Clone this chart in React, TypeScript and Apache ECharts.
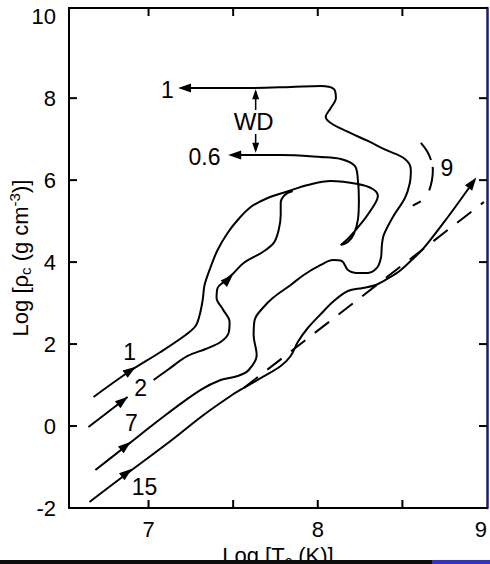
import React, { useEffect, useRef } from "react";
import * as echarts from "echarts";

// Central density vs central temperature tracks (log units)
const xTickValues = [7, 7.5, 8, 8.5];
const xLabelValues = [7, 8, 9];
const yTickValues = [0, 2, 4, 6, 8];
const xMin = 6.53;
const xMax = 9;
const yMin = -2;
const yMax = 10.2;

// 1 Msun star: main sequence -> degenerate core -> 0.6 Msun white dwarf
const track1: number[][] = [
  [6.675, 0.709], [6.882, 1.319], [7.071, 1.807], [7.219, 2.222], [7.278, 2.441],
  [7.302, 2.71], [7.32, 3.076], [7.331, 3.442], [7.367, 3.881], [7.408, 4.296],
  [7.467, 4.711], [7.527, 5.028], [7.604, 5.345], [7.704, 5.565], [7.811, 5.711],
  [7.941, 5.882], [8.077, 5.98], [8.237, 5.906], [8.325, 5.784], [8.355, 5.614],
  [8.314, 5.272], [8.254, 4.93], [8.183, 4.589], [8.136, 4.418], [8.178, 4.491],
  [8.213, 4.686], [8.237, 5.028], [8.243, 5.516], [8.237, 6.004], [8.219, 6.346],
  [8.136, 6.516], [8.018, 6.565], [7.781, 6.614], [7.533, 6.614],
];

// 2 Msun star, before and after its label
const track2a: number[][] = [[6.645, -0.023], [6.876, 0.709]];
const track2b: number[][] = [
  [7.03, 1.124], [7.112, 1.368], [7.231, 1.709], [7.337, 1.88], [7.426, 2.051],
  [7.473, 2.27], [7.479, 2.539], [7.438, 2.856], [7.402, 3.125], [7.408, 3.369],
  [7.444, 3.515], [7.497, 3.71], [7.562, 3.979], [7.675, 4.247], [7.74, 4.467],
  [7.769, 4.784], [7.781, 5.15], [7.781, 5.443], [7.805, 5.638], [7.852, 5.736],
];

// 7 Msun star, ending as a 1 Msun white dwarf
const track7: number[][] = [
  [6.686, -1.073], [6.852, -0.536], [7.101, 0.269], [7.308, 0.88], [7.426, 1.124],
  [7.527, 1.221], [7.592, 1.368], [7.639, 1.734], [7.621, 2.222], [7.627, 2.588],
  [7.675, 2.88], [7.734, 3.125], [7.84, 3.442], [7.917, 3.686], [8.018, 3.93],
  [8.089, 4.052], [8.142, 4.027], [8.178, 3.808], [8.225, 3.735], [8.296, 3.735],
  [8.349, 3.857], [8.373, 4.101], [8.379, 4.418], [8.39, 4.662], [8.444, 5.101],
  [8.515, 5.565], [8.544, 5.931], [8.55, 6.248], [8.515, 6.516], [8.402, 6.736],
  [8.296, 6.956], [8.166, 7.2], [8.077, 7.395], [8.047, 7.541], [8.077, 7.761],
  [8.107, 8.005], [8.095, 8.225], [8.018, 8.298], [7.84, 8.273], [7.604, 8.249],
  [7.249, 8.249],
];

// 15 Msun star
const track15: number[][] = [
  [6.651, -1.854], [6.861, -1.195], [7.13, -0.365], [7.325, 0.269], [7.485, 0.733],
  [7.562, 0.928], [7.675, 1.197], [7.781, 1.465], [7.84, 1.709], [7.882, 2.051],
  [7.941, 2.392], [8.018, 2.734], [8.095, 3.051], [8.178, 3.295], [8.266, 3.369],
  [8.343, 3.442], [8.42, 3.613], [8.491, 3.808], [8.568, 4.101], [8.627, 4.345],
  [8.769, 5.101], [8.893, 5.809],
];

// Straight dashed reference line and the 9 Msun segment
const refLine: number[][] = [[7.562, 0.928], [8.982, 5.467]];
const track9: number[][] = [
  [8.609, 6.907], [8.645, 6.712], [8.669, 6.492], [8.68, 6.248], [8.675, 6.004],
  [8.657, 5.736], [8.627, 5.54], [8.592, 5.443], [8.556, 5.37],
];

// WD separation marker
const wdBar: number[][] = [[7.633, 8.168], [7.633, 6.724]];

// Arrow heads: [x, y, rotation]
const arrowHeads: number[][] = [
  [6.893, 1.357, -55], [6.848, 0.618, -52], [6.866, -0.482, -51], [6.872, -1.139, -52],
  [7.472, 3.583, -45], [8.914, 5.936, -37], [7.213, 8.249, 90], [7.509, 6.614, 90],
];
const wdArrowHeads: number[][] = [[7.633, 8.096, 0], [7.633, 6.79, 180]];

// Text labels: [x, y, text]
const labelTexts: [number, number, string][] = [
  [6.888, 1.807, "1"], [6.953, 0.928, "2"], [6.899, 0.074, "7"], [6.976, -1.488, "15"],
  [7.112, 8.2, "1"], [7.331, 6.565, "0.6"], [8.763, 6.297, "9"],
];
const wdLabel: [number, number, string] = [7.621, 7.419, "WD"];

const FONT = "'Liberation Sans', Arial, Helvetica, sans-serif";

const solid = (data: number[][], extra: any = {}) => ({
  type: "line",
  data,
  smooth: 0.35,
  showSymbol: false,
  symbol: "none",
  lineStyle: { color: "#000", width: 2 },
  z: 3,
  ...extra,
});

const textSeries = (data: any[], label: any) => ({
  type: "scatter",
  symbol: "circle",
  symbolSize: 1,
  itemStyle: { color: "rgba(0,0,0,0)", opacity: 1 },
  z: 10,
  data,
  label: {
    show: true,
    position: "inside",
    formatter: (p: any) => p.name,
    color: "#000",
    opacity: 1,
    fontFamily: FONT,
    ...label,
  },
});

// Inward tick marks on all four frame edges: [x, y, dx, dy]
const tickMarks: number[][] = [
  ...xTickValues.map((v) => [v, yMin, 0, -8]),
  ...xTickValues.map((v) => [v, yMax, 0, 8]),
  ...yTickValues.map((v) => [xMin, v, 8, 0]),
  ...yTickValues.map((v) => [xMax, v, -8, 0]),
];

const frameTicks = {
  type: "custom",
  clip: false,
  silent: true,
  z: 5,
  data: tickMarks,
  renderItem: (_params: any, api: any) => {
    const p = api.coord([api.value(0), api.value(1)]);
    return {
      type: "line",
      shape: { x1: p[0], y1: p[1], x2: p[0] + api.value(2), y2: p[1] + api.value(3) },
      style: { stroke: "#000", lineWidth: 2 },
    };
  },
};

export default function App() {
  const ref = useRef<HTMLDivElement>(null);

  useEffect(() => {
    if (!ref.current) return;
    const chart = echarts.init(ref.current, undefined, { renderer: "svg" });

    const axisLine = { show: true, onZero: false, lineStyle: { color: "#000", width: 2 } };

    chart.setOption({
      animation: false,
      backgroundColor: "#fff",
      grid: { left: 69, right: 3, top: 8, bottom: 56, containLabel: false, outerBoundsMode: "none" },
      xAxis: [
        {
          type: "value",
          min: xMin,
          max: xMax,
          position: "bottom",
          axisLine,
          axisTick: { show: false },
          axisLabel: {
            customValues: xLabelValues,
            fontSize: 22,
            margin: 10,
            color: "#000",
            fontFamily: FONT,
            alignMaxLabel: "right",
          },
          splitLine: { show: false },
          name: "Log [T{sub|c} (K)]",
          nameLocation: "middle",
          nameGap: 34,
          nameMoveOverlap: false,
          nameTextStyle: {
            fontSize: 22,
            lineHeight: 26,
            color: "#000",
            fontFamily: FONT,
            rich: {
              sub: { fontSize: 15, lineHeight: 14, verticalAlign: "bottom", fontFamily: FONT, color: "#000" },
            },
          },
        },
        {
          type: "value",
          min: xMin,
          max: xMax,
          position: "top",
          axisLine,
          axisTick: { show: false },
          axisLabel: { show: false },
          splitLine: { show: false },
        },
      ],
      yAxis: [
        {
          type: "value",
          min: yMin,
          max: yMax,
          interval: 2,
          position: "left",
          axisLine,
          axisTick: { show: false },
          axisLabel: { fontSize: 22, margin: 13, color: "#000", fontFamily: FONT, padding: [6, 0, 0, 0] },
          splitLine: { show: false },
          name: "Log [ρ{sub|c} (g cm{sup|-3})]",
          nameLocation: "middle",
          nameGap: 36,
          nameMoveOverlap: false,
          nameTextStyle: {
            fontSize: 22,
            lineHeight: 26,
            color: "#000",
            fontFamily: FONT,
            rich: {
              sub: { fontSize: 15, lineHeight: 14, verticalAlign: "bottom", fontFamily: FONT, color: "#000" },
              sup: { fontSize: 15, lineHeight: 14, verticalAlign: "top", fontFamily: FONT, color: "#000" },
            },
          },
        },
        {
          type: "value",
          min: yMin,
          max: yMax,
          interval: 2,
          position: "right",
          axisLine: { show: true, onZero: false, lineStyle: { color: "#1e1e66", width: 2.5 } },
          axisTick: { show: false },
          axisLabel: { show: false },
          splitLine: { show: false },
        },
      ],
      series: [
        solid(track1),
        solid(track2a, { smooth: false }),
        solid(track2b),
        solid(track7),
        solid(track15),
        solid(refLine, { smooth: false, lineStyle: { color: "#000", width: 2, type: [18, 12] } }),
        solid(track9, { lineStyle: { color: "#000", width: 2, type: [20, 7, 24, 14, 9, 100] } }),
        solid(wdBar, { smooth: false, lineStyle: { color: "#000", width: 1.5 } }),
        frameTicks,
        {
          type: "scatter",
          symbol: "triangle",
          data: arrowHeads.map(([x, y, r]) => ({ value: [x, y], symbolRotate: r })),
          symbolSize: [9, 13],
          itemStyle: { color: "#000", opacity: 1 },
          z: 4,
        },
        {
          type: "scatter",
          symbol: "triangle",
          data: wdArrowHeads.map(([x, y, r]) => ({ value: [x, y], symbolRotate: r })),
          symbolSize: [7, 10],
          itemStyle: { color: "#000", opacity: 1 },
          z: 4,
        },
        textSeries(
          labelTexts.map(([x, y, t]) => ({ value: [x, y], name: t })),
          { fontSize: 23 }
        ),
        textSeries(
          [{ value: [wdLabel[0], wdLabel[1]], name: wdLabel[2] }],
          { fontSize: 24, backgroundColor: "#fff", padding: [0, 1] }
        ),
      ],
      graphic: [
        { type: "rect", left: 0, top: 560, shape: { width: 432, height: 4 }, style: { fill: "#0d0d0d" }, z: 100 },
        { type: "rect", left: 432, top: 560, shape: { width: 58, height: 4 }, style: { fill: "#3232c8" }, z: 100 },
      ],
    });

    return () => chart.dispose();
  }, []);

  return <div ref={ref} style={{ width: 490, height: 564, position: "absolute", left: 0, top: 0 }} />;
}
